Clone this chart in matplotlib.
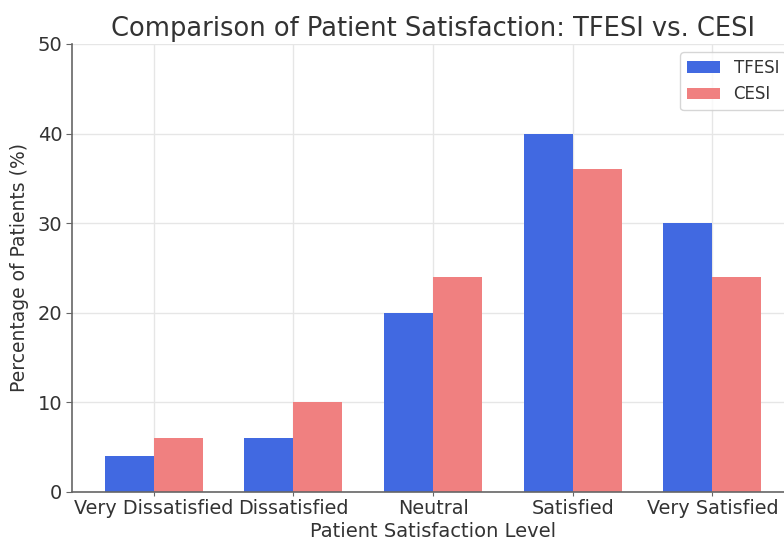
import numpy as np
import matplotlib
matplotlib.use("Agg")
import matplotlib.pyplot as plt

levels = ["Very Dissatisfied", "Dissatisfied", "Neutral", "Satisfied", "Very Satisfied"]
tfesi = [4, 6, 20, 40, 30]
cesi = [6, 10, 24, 36, 24]

plt.rcParams['font.family'] = 'DejaVu Sans'
plt.rcParams['text.color'] = '#333333'
plt.rcParams['axes.labelcolor'] = '#333333'
plt.rcParams['xtick.color'] = '#333333'
plt.rcParams['ytick.color'] = '#333333'

fig = plt.figure(figsize=(7.84, 5.42), dpi=100)
# axes runs a little past the right edge of the canvas
ax = fig.add_axes([0.0918, 0.0923, 0.921, 0.8266])

x = np.arange(len(levels))
width = 0.35
ax.bar(x - width / 2, tfesi, width, label="TFESI", color="royalblue")
ax.bar(x + width / 2, cesi, width, label="CESI", color="lightcoral")

ax.set_xticks(x)
ax.set_xticklabels(levels, fontsize=13.8)
ax.set_ylim(0, 50)
ax.set_yticks(range(0, 51, 10))
ax.tick_params(axis='y', labelsize=14, length=4, color='#666666', pad=3)
ax.tick_params(axis='x', length=3, color='#666666', pad=2)
ax.set_xlabel("Patient Satisfaction Level", fontsize=14, labelpad=3)
ax.set_ylabel("Percentage of Patients (%)", fontsize=13.5, labelpad=6)
ax.set_title("Comparison of Patient Satisfaction: TFESI vs. CESI", fontsize=18.5, pad=6)

ax.set_axisbelow(True)
ax.grid(True, color='#e6e6e6', linewidth=1)
for side in ['top', 'right']:
    ax.spines[side].set_visible(False)
for side in ['left', 'bottom']:
    ax.spines[side].set_color('#666666')
    ax.spines[side].set_linewidth(1.2)

ax.legend(loc='upper right', fontsize=12, frameon=True)

fig.savefig("out.png", dpi=100)
